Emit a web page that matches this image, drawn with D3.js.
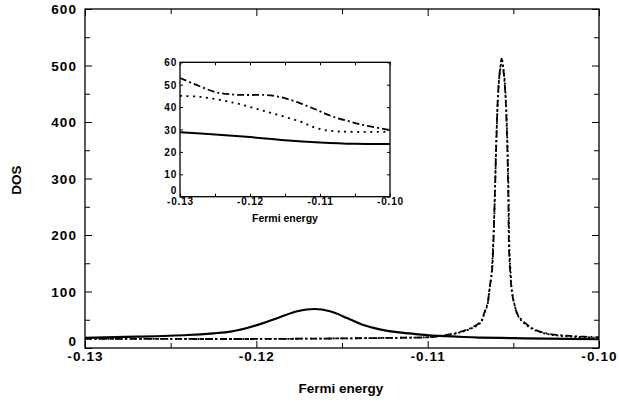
<!DOCTYPE html>
<html>
<head>
<meta charset="utf-8">
<script src="https://cdn.jsdelivr.net/npm/d3@7"></script>
<style>
  body { margin: 0; background: #fff; }
  svg text { font-family: "Liberation Sans", Arial, sans-serif; font-weight: bold; fill: #000; }
</style>
</head>
<body>
<svg id="chart" width="619" height="407"></svg>
<script>
// main panel
const solidE = [-0.130, -0.127, -0.124, -0.1225, -0.1215, -0.1206, -0.1196, -0.1186, -0.1176, -0.1166,
  -0.1157, -0.1147, -0.1138, -0.1128, -0.1118, -0.1108, -0.1099, -0.1089, -0.1079, -0.1070, -0.105, -0.103, -0.100];
const solidDOS = [18, 20, 23, 26, 29, 35, 44, 55, 65, 69,
  65, 53, 41, 33, 28, 25, 22.5, 21, 19.5, 18.5, 17.5, 16.5, 15.5];

const dashDotE = [-0.130, -0.125, -0.120, -0.115, -0.112, -0.110, -0.1093, -0.1083, -0.1075, -0.1069,
  -0.1067, -0.1065, -0.1064, -0.10624, -0.10618, -0.1061, -0.10597, -0.10588, -0.10578, -0.10568,
  -0.10558, -0.10548, -0.10538, -0.1053, -0.10525, -0.10519, -0.1051, -0.10496, -0.10473, -0.1043,
  -0.1037, -0.1029, -0.1015, -0.100];
const dashDotDOS = [16, 16, 16, 17, 18, 19, 21, 27, 35, 47,
  62, 80, 103, 138, 173, 250, 386, 457, 492, 512,
  492, 457, 386, 280, 173, 138, 103, 80, 58, 44,
  32, 25, 21, 19];

const dottedE = [-0.130, -0.125, -0.120, -0.115, -0.112, -0.110, -0.1093, -0.1083, -0.1075, -0.1069,
  -0.1067, -0.1065, -0.1064, -0.10626, -0.1062, -0.1061, -0.10598, -0.10588, -0.10578, -0.10566,
  -0.10556, -0.10546, -0.10536, -0.10528, -0.10522, -0.10516, -0.10508, -0.10494, -0.10471, -0.1043,
  -0.1037, -0.1029, -0.1015, -0.100];
const dottedDOS = [16, 16, 16, 17, 18, 19, 21, 26, 34, 45,
  60, 78, 100, 135, 170, 245, 380, 452, 490, 508,
  490, 452, 380, 275, 170, 135, 100, 78, 56, 42,
  31, 24, 20, 18];

// inset panel
const insetSolidE = [-0.130, -0.125, -0.120, -0.115, -0.110, -0.105, -0.100];
const insetSolidDOS = [28.8, 27.8, 26.6, 25.2, 24.2, 23.6, 23.5];

const insetDotE = [-0.130, -0.1272, -0.1224, -0.1177, -0.1129, -0.1105, -0.1082, -0.1058, -0.100];
const insetDotDOS = [45, 44.6, 42, 38, 33.6, 30.6, 29.3, 29, 29];

const insetDashDotE = [-0.130, -0.1272, -0.1248, -0.1224, -0.1201, -0.1177, -0.1153, -0.1129, -0.1105,
  -0.1082, -0.1058, -0.1034, -0.100];
const insetDashDotDOS = [53, 49.3, 46.6, 45.6, 45.4, 45.4, 44.2, 41.8, 38.8, 35.8, 33.6, 31.7, 29.8];

const xMajor = [-0.13, -0.12, -0.11, -0.10];
const xMinor = [-0.125, -0.115, -0.105];

const svg = d3.select('#chart');

const x = d3.scaleLinear().domain([-0.13, -0.10]).range([85, 599]);
const y = d3.scaleLinear().domain([0, 600]).range([348, 9]);

const fmtX = d => d.toFixed(2);

function frameAxes(g, xs, ys, opt) {
  const [x0, x1] = xs.range();
  const [y0, y1] = ys.range();
  g.append('rect')
    .attr('x', x0).attr('y', y1)
    .attr('width', x1 - x0).attr('height', y0 - y1)
    .attr('fill', '#fff').attr('stroke', '#000').attr('stroke-width', 1.3);

  const clean = a => { a.select('.domain').remove(); a.selectAll('line').attr('stroke', '#000'); };

  // bottom with labels
  const bx = g.append('g').attr('transform', `translate(0,${y0})`)
    .call(d3.axisBottom(xs).tickValues(xMajor).tickSize(-opt.major).tickPadding(opt.xPad).tickFormat(fmtX));
  clean(bx);
  bx.selectAll('text').style('font-size', opt.font + 'px').style('letter-spacing', opt.ls + 'px');
  g.append('g').attr('transform', `translate(0,${y0})`)
    .call(d3.axisBottom(xs).tickValues(xMinor).tickSize(-opt.minor).tickFormat(''))
    .call(clean);
  g.append('g').attr('transform', `translate(0,${y1})`)
    .call(d3.axisTop(xs).tickValues(xMajor).tickSize(-opt.major).tickFormat(''))
    .call(clean);
  g.append('g').attr('transform', `translate(0,${y1})`)
    .call(d3.axisTop(xs).tickValues(xMinor).tickSize(-opt.minor).tickFormat(''))
    .call(clean);

  // left with labels
  const ly = g.append('g').attr('transform', `translate(${x0},0)`)
    .call(d3.axisLeft(ys).tickValues(opt.yMajor).tickSize(-opt.major).tickPadding(opt.yPad));
  clean(ly);
  ly.selectAll('text').style('font-size', opt.font + 'px').style('letter-spacing', opt.ls + 'px')
    .attr('dy', d => d === 0 ? opt.zeroDy : '0.36em');
  g.append('g').attr('transform', `translate(${x0},0)`)
    .call(d3.axisLeft(ys).tickValues(opt.yMinor).tickSize(-opt.minor).tickFormat(''))
    .call(clean);
  g.append('g').attr('transform', `translate(${x1},0)`)
    .call(d3.axisRight(ys).tickValues(opt.yMajor).tickSize(-opt.major).tickFormat(''))
    .call(clean);
  g.append('g').attr('transform', `translate(${x1},0)`)
    .call(d3.axisRight(ys).tickValues(opt.yMinor).tickSize(-opt.minor).tickFormat(''))
    .call(clean);
}

const main = svg.append('g');
frameAxes(main, x, y, {
  major: 7, minor: 5, xPad: 3.5, yPad: 8, font: 13.5, ls: 1.1, zeroDy: '-0.15em',
  yMajor: d3.range(0, 601, 100), yMinor: d3.range(50, 600, 100)
});

const lineMain = d3.line().x(d => x(d[0])).y(d => y(d[1])).curve(d3.curveCatmullRom.alpha(0.5));

main.append('path').datum(d3.zip(dottedE, dottedDOS))
  .attr('d', lineMain).attr('fill', 'none').attr('stroke', '#000')
  .attr('stroke-width', 1.8).attr('stroke-dasharray', '2,2.5');
main.append('path').datum(d3.zip(dashDotE, dashDotDOS))
  .attr('d', lineMain).attr('fill', 'none').attr('stroke', '#000')
  .attr('stroke-width', 1.8).attr('stroke-dasharray', '7,3,2,3');
main.append('path').datum(d3.zip(solidE, solidDOS))
  .attr('d', lineMain).attr('fill', 'none').attr('stroke', '#000')
  .attr('stroke-width', 2.2);

main.append('text')
  .attr('x', 341).attr('y', 393).attr('text-anchor', 'middle')
  .style('font-size', '13.5px').text('Fermi energy');
main.append('text')
  .attr('transform', 'translate(21,180) rotate(-90)').attr('text-anchor', 'middle')
  .style('font-size', '13.5px').text('DOS');

// inset
const xi = d3.scaleLinear().domain([-0.13, -0.10]).range([180, 390]);
const yi = d3.scaleLinear().domain([0, 60]).range([196.7, 62.3]);

const inset = svg.append('g');
frameAxes(inset, xi, yi, {
  major: 3, minor: 3, xPad: 1.5, yPad: 3, font: 10, ls: 0.8, zeroDy: '-0.3em',
  yMajor: d3.range(0, 61, 10), yMinor: []
});

const lineInset = d3.line().x(d => xi(d[0])).y(d => yi(d[1])).curve(d3.curveCatmullRom.alpha(0.5));

inset.append('path').datum(d3.zip(insetDotE, insetDotDOS))
  .attr('d', lineInset).attr('fill', 'none').attr('stroke', '#000')
  .attr('stroke-width', 1.8).attr('stroke-dasharray', '2,4.5');
inset.append('path').datum(d3.zip(insetDashDotE, insetDashDotDOS))
  .attr('d', lineInset).attr('fill', 'none').attr('stroke', '#000')
  .attr('stroke-width', 1.8).attr('stroke-dasharray', '7,3,2,3');
inset.append('path').datum(d3.zip(insetSolidE, insetSolidDOS))
  .attr('d', lineInset).attr('fill', 'none').attr('stroke', '#000')
  .attr('stroke-width', 2);

inset.append('text')
  .attr('x', 285).attr('y', 222).attr('text-anchor', 'middle')
  .style('font-size', '10.5px').text('Fermi energy');
</script>
</body>
</html>
